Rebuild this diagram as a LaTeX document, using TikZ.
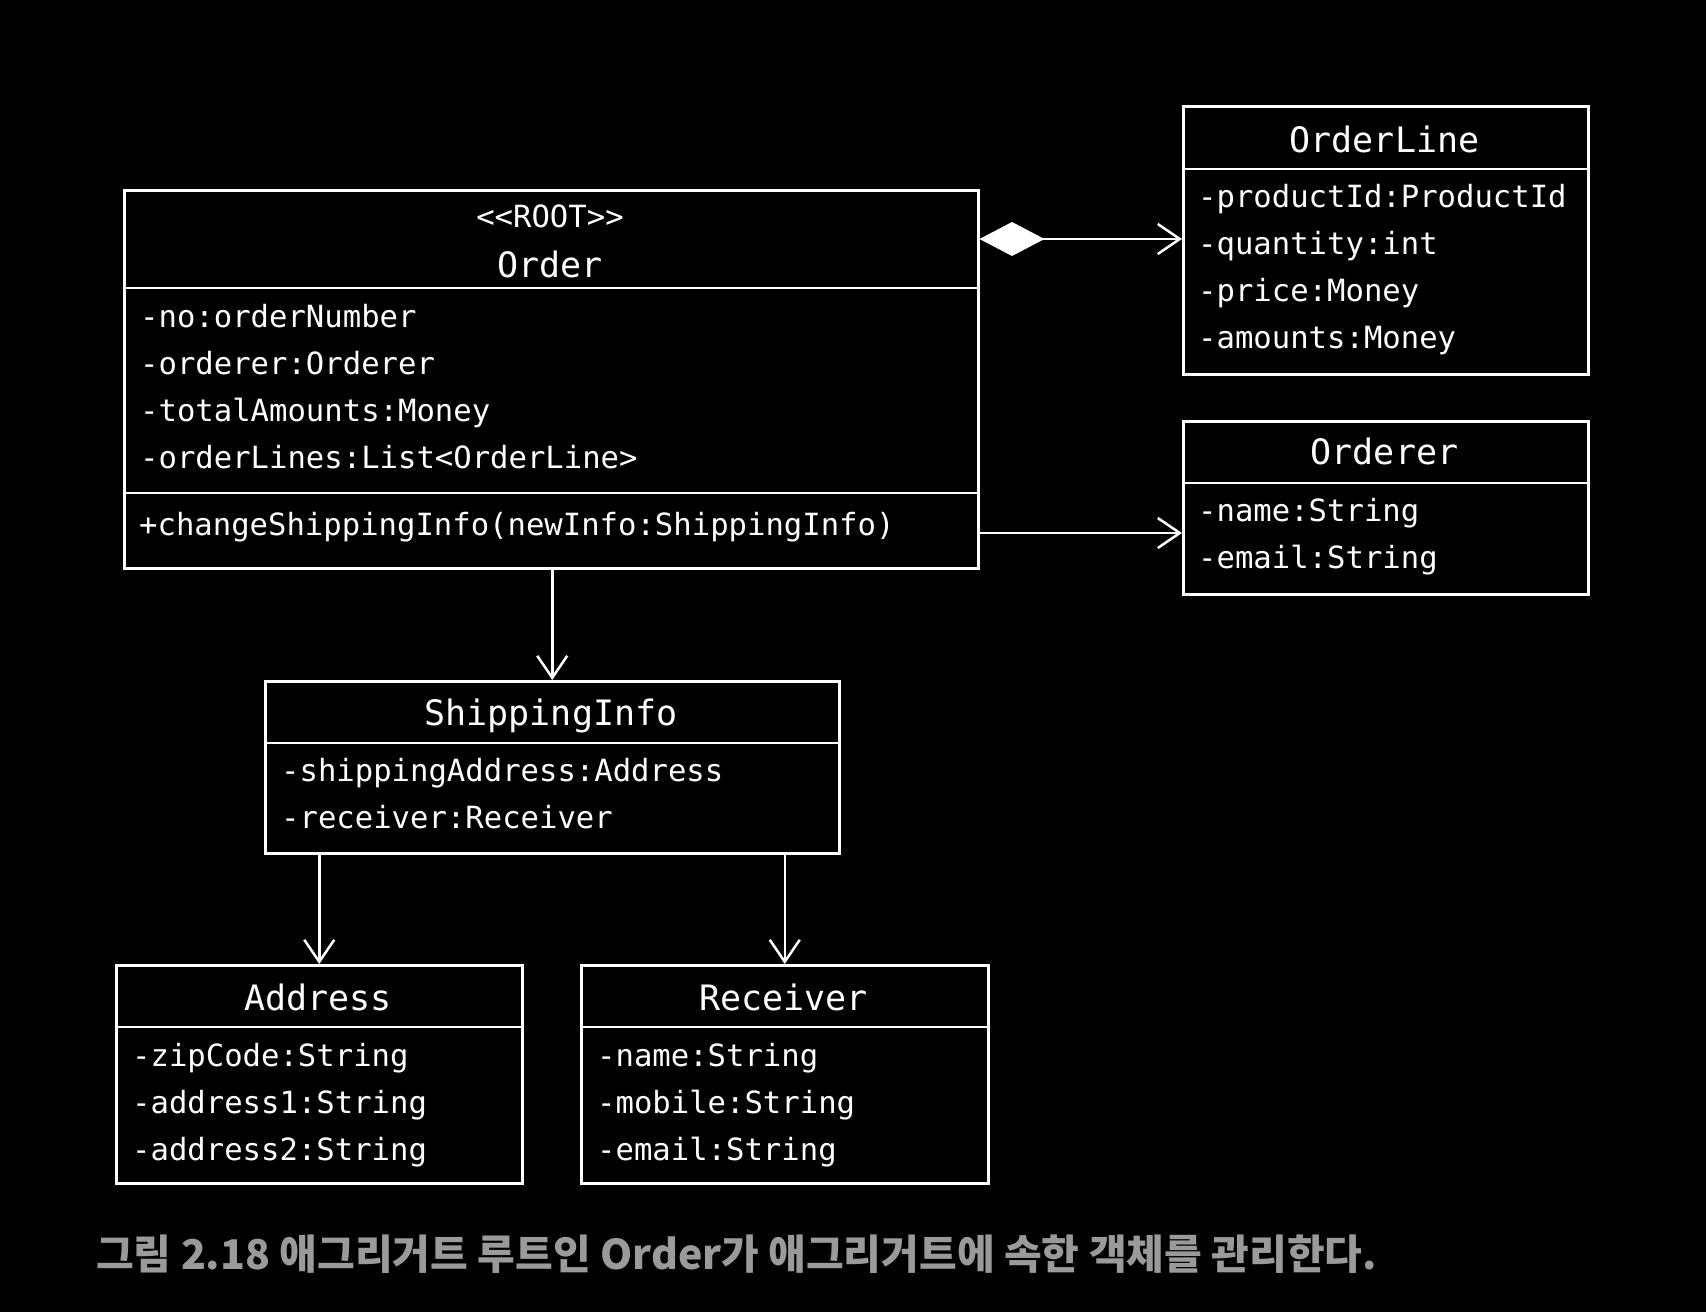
\documentclass[tikz,border=0pt]{standalone}
\usepackage{fontspec}
\usetikzlibrary{arrows.meta}
\newfontfamily\monof{DejaVu Sans Mono}
\newfontfamily\cjk{Noto Sans CJK KR}
\begin{document}
\begin{tikzpicture}[x=1pt,y=-1pt,
  classbox/.style={draw=white,line width=2.5pt,inner sep=0pt,anchor=north west},
  sepline/.style={draw=white,line width=2.5pt},
  conn/.style={draw=white,line width=2.5pt,-{Straight Barb[length=22pt,width=30pt]}},
  attr/.style={text=white,inner sep=0pt,anchor=base west,font=\monof\fontsize{30.6}{36}\selectfont},
  ttl/.style={text=white,inner sep=0pt,anchor=base,font=\monof\fontsize{35}{40}\selectfont},
  stereo/.style={text=white,inner sep=0pt,anchor=base,font=\monof\fontsize{30.6}{36}\selectfont}]
\fill[black] (0,0) rectangle (1706,1312);
\useasboundingbox (0,0) rectangle (1706,1312);

% Order
\node[classbox,minimum width=854pt,minimum height=378pt] (order) at (123,189) {};
\draw[sepline] (123,288) -- (977,288);
\draw[sepline] (123,493) -- (977,493);
\node[stereo] (oroot) at (550,227) {<\kern0pt<ROOT>\kern0pt>};
\node[ttl] (otitle) at (550,277) {Order};
\node[attr] (o1) at (140,327) {-no:orderNumber};
\node[attr] (o2) at (140,374) {-orderer:Orderer};
\node[attr] (o3) at (140,421) {-totalAmounts:Money};
\node[attr] (o4) at (140,468) {-orderLines:List<OrderLine>};
\node[attr] (o5) at (139,535) {+changeShippingInfo(newInfo:ShippingInfo)};

% OrderLine
\node[classbox,minimum width=405pt,minimum height=268pt] (ol) at (1182,105) {};
\draw[sepline] (1182,169) -- (1587,169);
\node[ttl] (oltitle) at (1384.5,152) {OrderLine};
\node[attr] (ol1) at (1198,207) {-productId:ProductId};
\node[attr] (ol2) at (1198,254) {-quantity:int};
\node[attr] (ol3) at (1198,301) {-price:Money};
\node[attr] (ol4) at (1198,348) {-amounts:Money};

% Orderer
\node[classbox,minimum width=405pt,minimum height=173pt] (orderer) at (1182,420) {};
\draw[sepline] (1182,483) -- (1587,483);
\node[ttl] (ortitle) at (1384.5,464) {Orderer};
\node[attr] (or1) at (1198,521) {-name:String};
\node[attr] (or2) at (1198,568) {-email:String};

% ShippingInfo
\node[classbox,minimum width=574pt,minimum height=172pt] (ship) at (264,680) {};
\draw[sepline] (264,743) -- (838,743);
\node[ttl] (stitle) at (551,725) {ShippingInfo};
\node[attr] (s1) at (281,781) {-shippingAddress:Address};
\node[attr] (s2) at (281,828) {-receiver:Receiver};

% Address
\node[classbox,minimum width=406pt,minimum height=218pt] (addr) at (115,964) {};
\draw[sepline] (115,1027) -- (521,1027);
\node[ttl] (atitle) at (318,1010) {Address};
\node[attr] (a1) at (132,1066) {-zipCode:String};
\node[attr] (a2) at (132,1113) {-address1:String};
\node[attr] (a3) at (132,1160) {-address2:String};

% Receiver
\node[classbox,minimum width=407pt,minimum height=218pt] (recv) at (580,964) {};
\draw[sepline] (580,1027) -- (987,1027);
\node[ttl] (rtitle) at (783.5,1010) {Receiver};
\node[attr] (r1) at (597,1066) {-name:String};
\node[attr] (r2) at (597,1113) {-mobile:String};
\node[attr] (r3) at (597,1160) {-email:String};

% connectors
\coordinate (compy) at (0,239);
\coordinate (assocy) at (0,533);
\draw[conn,{Diamond[length=65pt,width=34pt,fill=white]}-{Straight Barb[length=22pt,width=30pt]}] (order.east |- compy) -- (ol.west |- compy);
\draw[conn] (order.east |- assocy) -- (orderer.west |- assocy);
\draw[conn] (ship.north |- order.south) -- (ship.north);
\draw[conn] (ship.south -| addr.north) -- (addr.north);
\draw[conn] (ship.south -| recv.north) -- (recv.north);

% caption
\node[text={rgb,255:red,154;green,154;blue,154},inner sep=0pt,anchor=west,font=\cjk\bfseries\fontsize{41}{48}\selectfont] (cap) at (96,1254) {그림 2.18 애그리거트 루트인 Order가 애그리거트에 속한 객체를 관리한다.};
\end{tikzpicture}
\end{document}
